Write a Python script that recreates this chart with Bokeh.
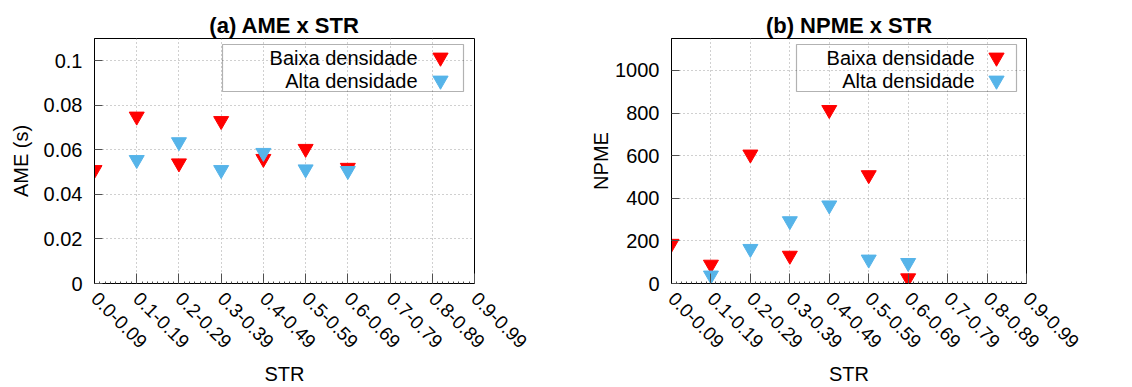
import math
import numpy as np
from bokeh.plotting import figure
from bokeh.layouts import row
from bokeh.models import (FixedTicker, Range1d, Label, BoxAnnotation, Legend, LegendItem)
from bokeh.embed import file_html
from bokeh.resources import INLINE

# ---------------- data ----------------
categories = ["0.0-0.09", "0.1-0.19", "0.2-0.29", "0.3-0.39", "0.4-0.49",
              "0.5-0.59", "0.6-0.69", "0.7-0.79", "0.8-0.89", "0.9-0.99"]

ame_baixa = [0.051, 0.075, 0.054, 0.073, 0.056, 0.0605, 0.052]
ame_alta = [None, 0.0555, 0.0635, 0.051, 0.0587, 0.0513, 0.0506]

npme_baixa = [187, 89, 606, 131, 815, 509, 25]
npme_alta = [None, 38, 163, 293, 367, 113, 97]

ame_ticks = [0, 0.02, 0.04, 0.06, 0.08, 0.1]
ame_tick_labels = ["0", "0.02", "0.04", "0.06", "0.08", "0.1"]
npme_ticks = [0, 200, 400, 600, 800, 1000]
npme_tick_labels = ["0", "200", "400", "600", "800", "1000"]

series_names = ["Baixa densidade", "Alta densidade"]
RED = "#ff0000"
BLUE = "#56b4e9"
FONT = "Liberation Sans"

H = 387
TOP = 38
FH = 248


def pairs(vals):
    xs, ys = [], []
    for i, v in enumerate(vals):
        if v is not None:
            xs.append(i)
            ys.append(v)
    return xs, ys


def make_plot(title, ylabel, ymax, yticks, ylabels, s1, s2, width,
              bl, br, legend_box, text_right, marker_cx, ylab_standoff):
    p = figure(width=width, height=H, output_backend="svg", toolbar_location=None,
               x_range=Range1d(0, len(categories) - 1), y_range=Range1d(0, ymax),
               min_border_left=bl, min_border_right=br, min_border_top=TOP,
               min_border_bottom=H - TOP - FH, title=title)
    p.title.align = "center"
    p.title.text_font = FONT
    p.title.text_font_size = "22px"
    p.title.text_font_style = "bold"
    p.title.text_color = "black"
    p.title.standoff = 2
    p.outline_line_color = "black"
    p.outline_line_width = 1
    p.background_fill_color = "white"
    p.border_fill_color = "white"

    xt = FixedTicker(ticks=list(range(len(categories))),
                     minor_ticks=list(np.arange(0, len(categories) - 1 + 1e-9, 0.125)))
    p.xaxis.ticker = xt
    p.xaxis.major_label_overrides = {i: c for i, c in enumerate(categories)}
    p.xaxis.major_label_orientation = -math.pi / 4
    p.xaxis.major_label_text_font = FONT
    p.xaxis.major_label_text_font_size = "19px"
    p.xaxis.major_label_standoff = 12
    p.xaxis.major_tick_in = 10
    p.xaxis.major_tick_out = 0
    p.xaxis.minor_tick_in = 2
    p.xaxis.minor_tick_out = 0
    p.xaxis.major_tick_line_color = "#505050"
    p.xaxis.minor_tick_line_color = "#505050"
    p.xaxis.axis_label = "STR"
    p.xaxis.axis_label_text_font = FONT
    p.xaxis.axis_label_text_font_size = "20px"
    p.xaxis.axis_label_text_font_style = "normal"
    p.xaxis.axis_label_standoff = 6

    yt = FixedTicker(ticks=yticks, minor_ticks=[])
    p.yaxis.ticker = yt
    p.yaxis.major_label_overrides = {t: l for t, l in zip(yticks, ylabels)}
    p.yaxis.major_label_text_font = FONT
    p.yaxis.major_label_text_font_size = "20px"
    p.yaxis.major_label_standoff = 12
    p.yaxis.major_tick_in = 8
    p.yaxis.major_tick_out = 0
    p.yaxis.minor_tick_line_color = None
    p.yaxis.major_tick_line_color = "#505050"
    p.yaxis.axis_label = ylabel
    p.yaxis.axis_label_text_font = FONT
    p.yaxis.axis_label_text_font_size = "20px"
    p.yaxis.axis_label_text_font_style = "normal"
    p.yaxis.axis_label_standoff = ylab_standoff

    for ax in (p.xaxis, p.yaxis):
        ax.axis_line_color = "black"
        ax.major_label_text_color = "black"
        ax.axis_label_text_color = "black"

    p.xgrid.ticker = xt
    p.ygrid.ticker = yt
    for g in (p.xgrid, p.ygrid):
        g.grid_line_color = "#a0a0a0"
        g.grid_line_dash = "1 3"
        g.grid_line_width = 1

    x1, y1 = pairs(s1)
    x2, y2 = pairs(s2)
    r1 = p.scatter(x1, y1, marker="inverted_triangle", size=15,
                   fill_color=RED, line_color=RED)
    r2 = p.scatter(x2, y2, marker="inverted_triangle", size=15,
                   fill_color=BLUE, line_color=BLUE)

    # legend: box, right-aligned texts, markers to the right
    l, r, t, b = legend_box
    p.add_layout(BoxAnnotation(left=l, right=r, top=FH - t, bottom=FH - b,
                               left_units="screen", right_units="screen",
                               top_units="screen", bottom_units="screen",
                               fill_alpha=0, line_color="black", line_width=1.2))
    gsz = 38
    for name, rr, yy in zip(series_names, [r1, r2], [22, 45]):
        p.add_layout(Label(x=text_right, y=FH - yy, x_units="screen", y_units="screen",
                           text=name, text_align="right", text_baseline="middle",
                           text_font=FONT, text_font_size="20px", text_color="black"))
        leg = Legend(items=[LegendItem(label="", renderers=[rr])],
                     location=(marker_cx - gsz // 2, FH - yy - gsz // 2),
                     glyph_width=gsz, glyph_height=gsz, label_height=gsz, label_width=0,
                     spacing=0, padding=0, margin=0, label_standoff=0,
                     border_line_alpha=0, background_fill_alpha=0)
        p.add_layout(leg, "center")
    return p


p1 = make_plot("(a) AME x STR", "AME (s)", 0.11, ame_ticks, ame_tick_labels,
               ame_baixa, ame_alta, 560, 94, 86, (128, 369, 9, 56), 323, 346, 9)
p2 = make_plot("(b) NPME x STR", "NPME", 1150, npme_ticks, npme_tick_labels,
               npme_baixa, npme_alta, 572, 111, 106, (125, 345, 9, 56), 303, 325, 0)

layout = row(p1, p2)
open("out.html", "w").write(file_html(layout, INLINE))
